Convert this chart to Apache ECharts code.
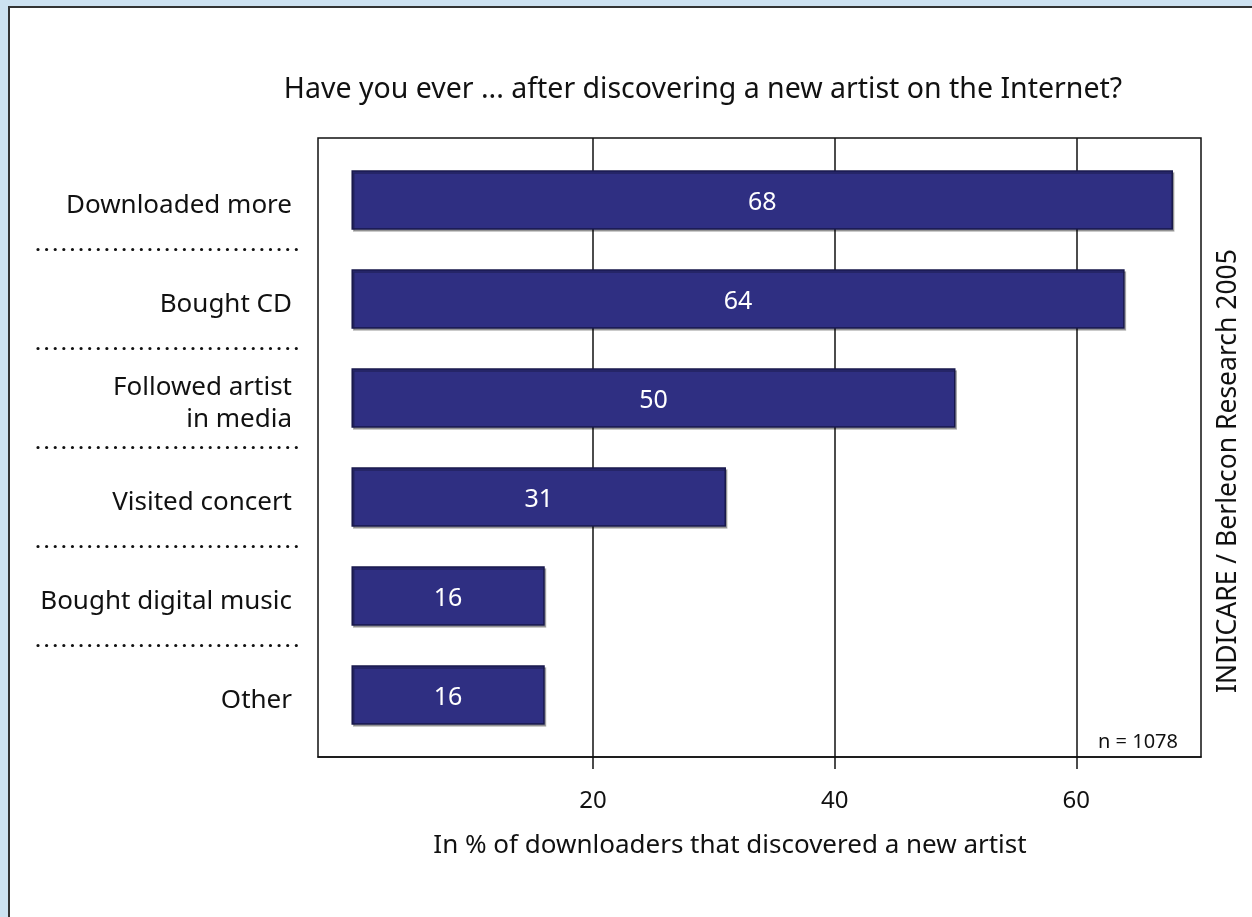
<!DOCTYPE html>
<html>
<head>
<meta charset="utf-8">
<script src="https://cdn.jsdelivr.net/npm/echarts@6/dist/echarts.min.js"></script>
<style>
  html, body { margin: 0; padding: 0; background: #cde2f1; }
  #panel { position: absolute; left: 8px; top: 6px; width: 1400px; height: 1000px;
           background: #fff; border-left: 2.5px solid #333; border-top: 2.5px solid #333; }
  #chart { position: absolute; left: 0; top: 0; width: 1252px; height: 917px; }
</style>
</head>
<body>
<div id="panel"></div>
<div id="chart"></div>
<script>
// Survey answers, top to bottom
const categories = [
  'Downloaded more',
  'Bought CD',
  'Followed artist\nin media',
  'Visited concert',
  'Bought digital music',
  'Other'
];
// Share of respondents (%)
const shares = [68, 64, 50, 31, 16, 16];
// Labelled ticks on the value axis
const tickValues = [20, 40, 60];

const titleText = 'Have you ever ... after discovering a new artist on the Internet?';
const axisTitle = 'In % of downloaders that discovered a new artist';
const sourceNote = 'INDICARE / Berlecon Research 2005';
const sampleNote = 'n = 1078';

const FONT = 'Noto Sans';
const INK = '#111';
const X_MIN = -2.77;
const X_MAX = 70.32;

const chart = echarts.init(document.getElementById('chart'), null, { renderer: 'canvas' });

const option = {
  backgroundColor: 'transparent',
  animation: false,
  title: [
    {
      text: titleText,
      left: 698, top: 70, textAlign: 'center',
      textStyle: { fontFamily: FONT, fontSize: 28.5, fontWeight: 'normal', color: INK }
    },
    {
      text: axisTitle,
      left: 725, top: 828, textAlign: 'center',
      textStyle: { fontFamily: FONT, fontSize: 26, fontWeight: 'normal', color: INK }
    }
  ],
  graphic: [
    {
      type: 'text', x: 1228, y: 471, rotation: Math.PI / 2,
      style: { text: sourceNote, fontFamily: FONT, fontSize: 26.5, fill: INK,
               textAlign: 'center', textVerticalAlign: 'middle' }
    },
    {
      type: 'text', x: 1178, y: 742,
      style: { text: sampleNote, fontFamily: FONT, fontSize: 20, fill: INK,
               textAlign: 'right', textVerticalAlign: 'middle' }
    }
  ],
  grid: [
    // framed plot area with vertical gridlines
    { left: 318, top: 138, width: 883, height: 619, show: true,
      borderColor: INK, borderWidth: 1.5, backgroundColor: 'transparent', containLabel: false },
    // bars
    { left: 318, top: 150.5, width: 883, height: 594, containLabel: false },
    // dotted separators beside the category labels
    { left: 38, top: 150.5, width: 261, height: 594, containLabel: false }
  ],
  xAxis: [
    {
      gridIndex: 0, type: 'value', min: X_MIN, max: X_MAX, position: 'bottom',
      axisLine: { show: true, lineStyle: { color: INK, width: 1.5 } },
      axisTick: { show: true, customValues: tickValues, length: 12, lineStyle: { color: INK, width: 1.5 } },
      splitLine: { show: true, lineStyle: { color: INK, width: 1.5 } },
      axisLabel: { customValues: tickValues, margin: 32, fontFamily: FONT, fontSize: 24, color: INK }
    },
    { gridIndex: 1, type: 'value', min: X_MIN, max: X_MAX, show: false },
    { gridIndex: 2, type: 'value', min: 0, max: 1, show: false }
  ],
  yAxis: [
    { gridIndex: 0, type: 'value', show: false },
    {
      gridIndex: 1, type: 'category', data: categories, inverse: true,
      axisLine: { show: false }, axisTick: { show: false }, splitLine: { show: false },
      axisLabel: {
        margin: 26, color: INK, align: 'right',
        formatter: v => '{c|' + v.split('\n').join('}\n{c|') + '}',
        rich: { c: { fontFamily: FONT, fontSize: 26, lineHeight: 32, color: INK, padding: [12, 0, 0, 0] } }
      }
    },
    {
      gridIndex: 2, type: 'category', data: categories, inverse: true,
      axisLine: { show: false }, axisTick: { show: false }, axisLabel: { show: false },
      splitLine: {
        show: true, showMinLine: false, showMaxLine: false,
        lineStyle: { color: INK, width: 3.2, type: [0.01, 8.6], cap: 'round' }
      }
    }
  ],
  series: [
    {
      type: 'bar', xAxisIndex: 1, yAxisIndex: 1, data: shares, barWidth: '60%',
      itemStyle: {
        color: '#2f2f82', borderColor: '#17174a', borderWidth: 1.5,
        shadowColor: 'rgba(0,0,0,0.28)', shadowOffsetX: 1.5, shadowOffsetY: 2, shadowBlur: 0
      },
      label: {
        show: true, position: 'inside', color: '#fff', offset: [0, 3],
        fontFamily: FONT, fontSize: 25, formatter: p => String(p.value)
      }
    }
  ]
};

chart.setOption(option);
</script>
</body>
</html>
